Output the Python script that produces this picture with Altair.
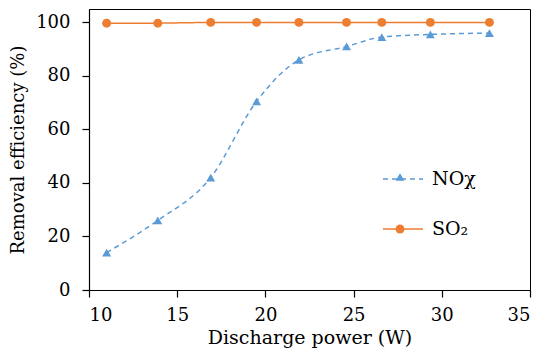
import altair as alt
import pandas as pd

power = [11.0, 13.9, 16.9, 19.5, 21.9, 24.6, 26.6, 29.35, 32.7]
nox = [14.0, 26.0, 42.0, 70.5, 86.0, 91.0, 94.5, 95.5, 96.0]
so2 = [99.7, 99.7, 100.0, 100.0, 100.0, 100.0, 100.0, 100.0, 100.0]
series = ["NOχ", "SO₂"]
markers = ["NOχ marker", "SO₂ marker"]
colors = ["#5B9BD5", "#ED7D31"]

df = pd.DataFrame(
    [{"power": p, "eff": v, "series": series[0], "marker": markers[0]} for p, v in zip(power, nox)]
    + [{"power": p, "eff": v, "series": series[1], "marker": markers[1]} for p, v in zip(power, so2)]
)

font = "DejaVu Serif"
LX, LY = 293, 149
common = dict(title=None, orient="none", labelFont=font, labelFontSize=19, labelColor="black")

stroke = alt.Stroke("series:N", scale=alt.Scale(domain=series, range=colors),
                    legend=alt.Legend(symbolType="stroke", symbolStrokeWidth=1.5, symbolSize=1600,
                                      rowPadding=19, labelOffset=8, legendX=LX, legendY=LY,
                                      **common))
dash = alt.StrokeDash("series:N", scale=alt.Scale(domain=series, range=[[5, 4], [1, 0]]))
fill = alt.Fill("marker:N", scale=alt.Scale(domain=markers, range=colors),
                legend=alt.Legend(labelOpacity=0, symbolSize=80, rowPadding=32, labelOffset=8,
                                  legendX=LX + 8.5, legendY=LY + 9.5, **common))
shape = alt.Shape("marker:N", scale=alt.Scale(domain=markers, range=["triangle-up", "circle"]))

x = alt.X("power:Q", scale=alt.Scale(domain=[10, 35]),
          axis=alt.Axis(title="Discharge power (W)", values=[10, 15, 20, 25, 30, 35],
                        labelFont=font, titleFont=font, labelFontSize=18, titleFontSize=19))
y = alt.Y("eff:Q", scale=alt.Scale(domain=[0, 105]),
          axis=alt.Axis(title="Removal efficiency (%)", values=[0, 20, 40, 60, 80, 100],
                        labelFont=font, titleFont=font, labelFontSize=18, titleFontSize=18))

base = alt.Chart(df)
lines = base.transform_filter(alt.datum.series == series[0]).mark_line(
    interpolate="monotone", strokeWidth=1.5).encode(x=x, y=y, stroke=stroke, strokeDash=dash)
lines2 = base.transform_filter(alt.datum.series == series[1]).mark_line(
    strokeWidth=1.5).encode(x=x, y=y, stroke=stroke, strokeDash=dash)
points = base.mark_point(filled=True, size=80, opacity=1).encode(x=x, y=y, fill=fill, shape=shape)

chart = alt.layer(lines, lines2, points).properties(
    width=441, height=281, autosize="none",
    padding={"left": 81, "top": 1, "right": 12, "bottom": 63},
).configure(font=font).configure_view(stroke="black", strokeWidth=1).configure_axis(
    labelColor="black", titleColor="black", titleFontWeight="normal", grid=False,
    domainColor="black", tickColor="black", tickSize=7, domainWidth=1.2, tickWidth=1.2,
).configure_axisX(labelPadding=9, titlePadding=4).configure_axisY(labelPadding=12, titlePadding=8)

chart.save("out.html", embed_options={"renderer": "svg", "actions": False})
